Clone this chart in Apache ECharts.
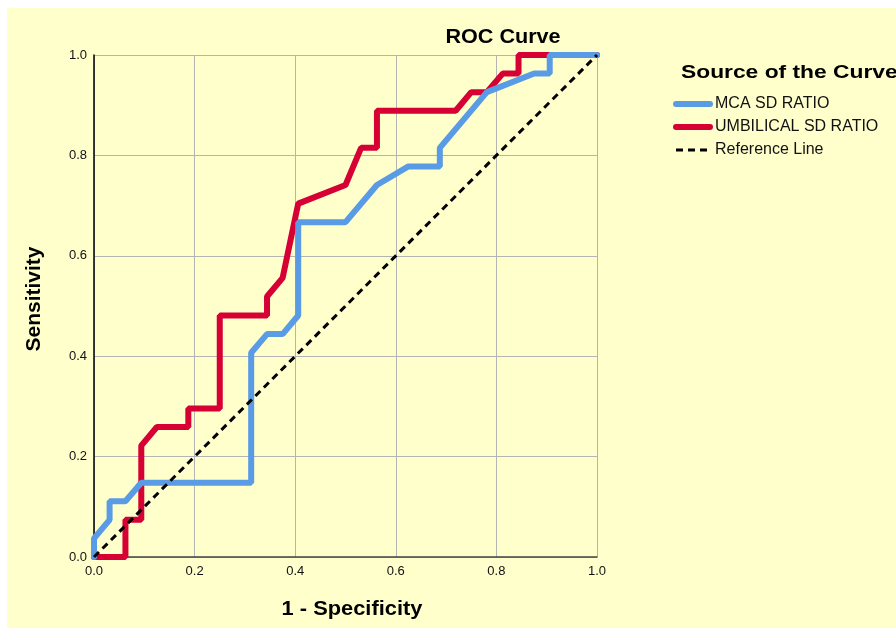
<!DOCTYPE html>
<html>
<head>
<meta charset="utf-8">
<script src="https://cdn.jsdelivr.net/npm/echarts@6/dist/echarts.min.js"></script>
<style>
html,body{margin:0;padding:0;background:#fff;}
#chart{width:896px;height:628px;}
</style>
</head>
<body>
<div id="chart"></div>
<script>
// ---- Data ----
const xTicks = [0, 0.2, 0.4, 0.6, 0.8, 1.0];
const yTicks = [0, 0.2, 0.4, 0.6, 0.8, 1.0];

const mcaFpr  = [0, 0, 0.031, 0.031, 0.0625, 0.094, 0.3125, 0.3125, 0.344, 0.375, 0.406, 0.406, 0.5, 0.5625, 0.625, 0.6875, 0.6875, 0.781, 0.875, 0.906, 0.906, 1];
const mcaTpr  = [0, 0.037, 0.074, 0.111, 0.111, 0.148, 0.148, 0.407, 0.444, 0.444, 0.481, 0.667, 0.667, 0.741, 0.778, 0.778, 0.815, 0.926, 0.963, 0.963, 1, 1];

const umbFpr  = [0, 0.0625, 0.0625, 0.094, 0.094, 0.125, 0.1875, 0.1875, 0.25, 0.25, 0.344, 0.344, 0.375, 0.406, 0.5, 0.531, 0.5625, 0.5625, 0.719, 0.75, 0.781, 0.8125, 0.844, 0.844, 1];
const umbTpr  = [0, 0, 0.074, 0.074, 0.222, 0.259, 0.259, 0.296, 0.296, 0.481, 0.481, 0.519, 0.556, 0.704, 0.741, 0.815, 0.815, 0.889, 0.889, 0.926, 0.926, 0.963, 0.963, 1, 1];

const refX = [0, 1];
const refY = [0, 1];

const seriesNames = ['MCA SD RATIO', 'UMBILICAL SD RATIO', 'Reference Line'];

const zip = (a, b) => a.map((v, i) => [v, b[i]]);

const chart = echarts.init(document.getElementById('chart'), null, {renderer: 'canvas'});
const FONT = 'Liberation Sans, Arial, sans-serif';

chart.setOption({
  backgroundColor: '#ffffff',
  animation: false,
  grid: {left: 94, right: 299, top: 55, bottom: 71, containLabel: false},
  xAxis: {
    type: 'value', min: 0, max: 1, interval: 0.2,
    axisLine: {show: true, lineStyle: {color: '#444', width: 1.5}},
    axisTick: {show: false},
    axisLabel: {color: '#111', fontSize: 13, fontFamily: FONT, margin: 8,
      formatter: v => xTicks.includes(Math.round(v*10)/10) ? v.toFixed(1) : ''},
    splitLine: {show: true, lineStyle: {color: '#b4b4b4', width: 1}}
  },
  yAxis: {
    type: 'value', min: 0, max: 1, interval: 0.2,
    axisLine: {show: true, lineStyle: {color: '#000', width: 1.5}},
    axisTick: {show: false},
    axisLabel: {color: '#111', fontSize: 13, fontFamily: FONT, margin: 7,
      formatter: v => yTicks.includes(Math.round(v*10)/10) ? v.toFixed(1) : ''},
    splitLine: {show: true, lineStyle: {color: '#b4b4b4', width: 1}}
  },
  legend: {
    orient: 'vertical', left: 673, top: 96, padding: 0,
    itemWidth: 34, itemHeight: 6, itemGap: 7,
    lineStyle: {width: 'inherit', type: 'inherit', cap: 'inherit'},
    itemStyle: {opacity: 0, borderWidth: 0},
    textStyle: {fontSize: 16, lineHeight: 16, color: '#111', fontFamily: FONT},
    data: seriesNames
  },
  graphic: [
    {type: 'rect', z: -10, silent: true, shape: {x: 7, y: 8, width: 889, height: 620}, style: {fill: '#ffffcc'}},
    {type: 'text', z: 10, x: 503, y: 37, scaleX: 1.08, style: {text: 'ROC Curve', font: 'bold 20px ' + FONT, fill: '#000', textAlign: 'center', textVerticalAlign: 'middle'}},
    {type: 'text', z: 10, x: 352, y: 609, scaleX: 1.04, style: {text: '1 - Specificity', font: 'bold 21px ' + FONT, fill: '#000', textAlign: 'center', textVerticalAlign: 'middle'}},
    {type: 'text', z: 10, x: 34, y: 299, rotation: Math.PI / 2, style: {text: 'Sensitivity', font: 'bold 21px ' + FONT, fill: '#000', textAlign: 'center', textVerticalAlign: 'middle'}},
    {type: 'text', z: 10, x: 681, y: 73, scaleX: 1.2, style: {text: 'Source of the Curve', font: 'bold 19px ' + FONT, fill: '#000', textAlign: 'left', textVerticalAlign: 'middle'}}
  ],
  series: [
    {name: seriesNames[0], type: 'line', data: zip(mcaFpr, mcaTpr), symbol: 'none', z: 3,
     lineStyle: {color: '#5a9be6', width: 6, cap: 'round'}, itemStyle: {color: '#5a9be6'}},
    {name: seriesNames[1], type: 'line', data: zip(umbFpr, umbTpr), symbol: 'none', z: 2,
     lineStyle: {color: '#d60035', width: 6, cap: 'round'}, itemStyle: {color: '#d60035'}},
    {name: seriesNames[2], type: 'line', data: zip(refX, refY), symbol: 'none', z: 4,
     lineStyle: {color: '#000', width: 3, type: [7, 5]}, itemStyle: {color: '#000'}}
  ]
});
</script>
</body>
</html>
